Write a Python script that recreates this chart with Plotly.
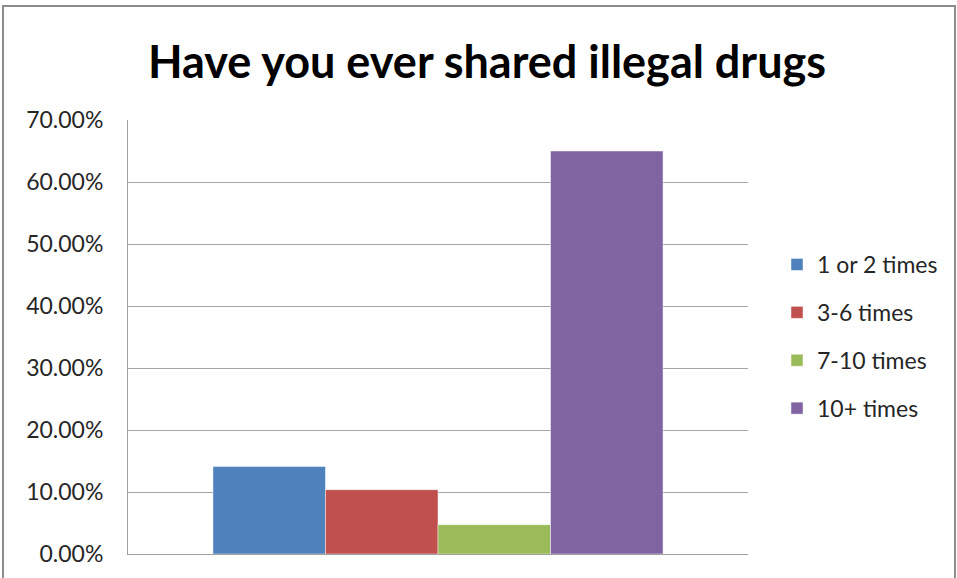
import plotly.graph_objects as go

title_text = "Have you ever shared illegal drugs"
series_names = ["1 or 2 times", "3-6 times", "7-10 times", "10+ times"]
series_values = [0.1410, 0.1037, 0.0473, 0.6500]
series_colors = ["#4F81BD", "#C0504D", "#9BBB59", "#8064A2"]
category = ["Shared"]
tick_vals = [0, 0.1, 0.2, 0.3, 0.4, 0.5, 0.6, 0.7]
tick_text = ["0.00%", "10.00%", "20.00%", "30.00%", "40.00%", "50.00%", "60.00%", "70.00%"]

W, H = 957, 578
L, R, T, B = 128, 748, 120, 554
pw, ph = R - L, B - T

fig = go.Figure()
for i, (n, v, c) in enumerate(zip(series_names, series_values, series_colors)):
    fig.add_trace(go.Bar(
        x=category, y=[v], name=n, legendgroup=f"g{i}",
        marker=dict(color=c, line=dict(color="rgba(255,255,255,0.45)", width=1)),
    ))

fig.update_layout(
    width=W, height=H,
    margin=dict(l=L, r=W - R, t=T, b=H - B, pad=0),
    paper_bgcolor="white", plot_bgcolor="white",
    barmode="group", bargap=0.274, bargroupgap=0,
    font=dict(family="Lato, 'Open Sans', sans-serif", size=20, color="#262626"),
    title=dict(text="<b>" + title_text + "</b>", x=(487) / W, xanchor="center",
               y=1 - 62 / H, yanchor="middle",
               font=dict(family="Lato, sans-serif", size=45, color="black")),
    showlegend=True,
    legend=dict(x=(777 - L) / pw, xanchor="left", y=1 - (243 - T) / ph, yanchor="top",
                tracegroupgap=15, font=dict(size=23, color="#262626"),
                bgcolor="rgba(0,0,0,0)", itemclick=False),
    xaxis=dict(showticklabels=False, showgrid=False, showline=True, linecolor="#A0A0A0",
               linewidth=1, ticks="", zeroline=False, range=[-0.5, 0.5]),
    yaxis=dict(range=[0, 0.7], tickvals=tick_vals, ticktext=tick_text,
               showgrid=True, gridcolor="#A6A6A6", gridwidth=1,
               showline=True, linecolor="#A0A0A0", linewidth=1, zeroline=False,
               ticks="outside", ticklen=0, ticklabelstandoff=19,
               tickfont=dict(size=23, color="#262626")),
    shapes=[dict(type="rect", xref="paper", yref="paper",
                 x0=(3 - L) / pw, x1=(955 - L) / pw,
                 y0=-(590 - B) / ph, y1=1 + (T - 6) / ph,
                 line=dict(color="#8C8C8C", width=2), fillcolor="rgba(0,0,0,0)",
                 layer="below")],
)

fig.write_html("out.html", config={"displayModeBar": False},
               post_script="document.body.style.margin='0';document.body.style.overflow='hidden';")
